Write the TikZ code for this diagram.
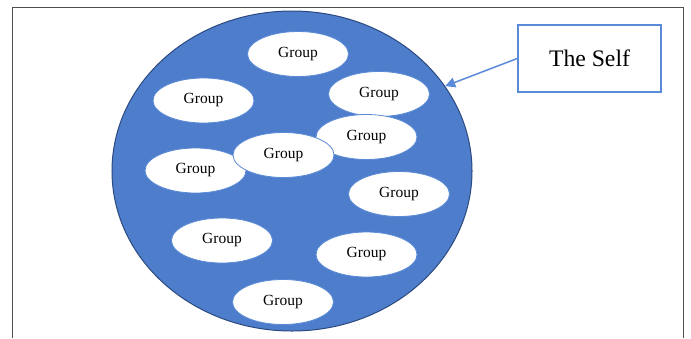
\documentclass[tikz,border=0pt]{standalone}
\usepackage{fontspec}
\setmainfont{Liberation Serif}
\usetikzlibrary{shapes.geometric,arrows.meta}
\definecolor{selfblue}{HTML}{4E7DCB}
\definecolor{selfedge}{HTML}{2C4A80}
\definecolor{grpedge}{HTML}{5A8AD6}
\definecolor{boxedge}{HTML}{5B8BD8}
\definecolor{framegray}{HTML}{505050}
\tikzset{
  grp/.style={ellipse, fill=white, draw=grpedge, line width=0.8bp, inner sep=0pt,
    minimum width=101bp, minimum height=45bp,
    font=\fontsize{15.5bp}{18bp}\selectfont},
  selfcircle/.style={ellipse, fill=selfblue, draw=selfedge, line width=1bp, inner sep=0pt,
    minimum width=360bp, minimum height=320bp},
  labelbox/.style={rectangle, draw=boxedge, line width=1.5bp, fill=white, inner sep=0pt,
    minimum width=143bp, minimum height=67bp,
    font=\fontsize{23.7bp}{28bp}\selectfont},
  framerule/.style={draw=framegray, line width=1bp},
  pointer/.style={draw=boxedge, line width=1.5bp, -{Triangle[length=10bp,width=10bp]}}
}
\begin{document}
\begin{tikzpicture}[x=1bp,y=-1bp]
\useasboundingbox (0,0) rectangle (691,338);
% frame
\coordinate (fbl) at (12,338);
\coordinate (ftl) at (12,7.5);
\coordinate (ftr) at (683,7.5);
\coordinate (fbr) at (683,338);
\draw[framerule] (fbl) -- (ftl) -- (ftr) -- (fbr);
% the self
\node[selfcircle] (circ) at (292,171) {};
\node[grp] (g1) at (298,54) {Group};
\node[grp] (g2) at (203.5,100.5) {Group};
\node[grp] (g3) at (379,94) {Group};
\node[grp] (g4) at (366.5,137) {Group};
\node[grp] (g6) at (195.5,170.5) {Group};
\node[grp] (g5) at (283.5,155) {Group};
\node[grp] (g7) at (399,194) {Group};
\node[grp] (g8) at (222,240.5) {Group};
\node[grp] (g9) at (366.5,254.5) {Group};
\node[grp] (g10) at (283,302) {Group};
% label
\node[labelbox] (self) at (589.5,58.5) {The Self};
\draw[pointer] (self.west) -- (circ.29.5);
\end{tikzpicture}
\end{document}
